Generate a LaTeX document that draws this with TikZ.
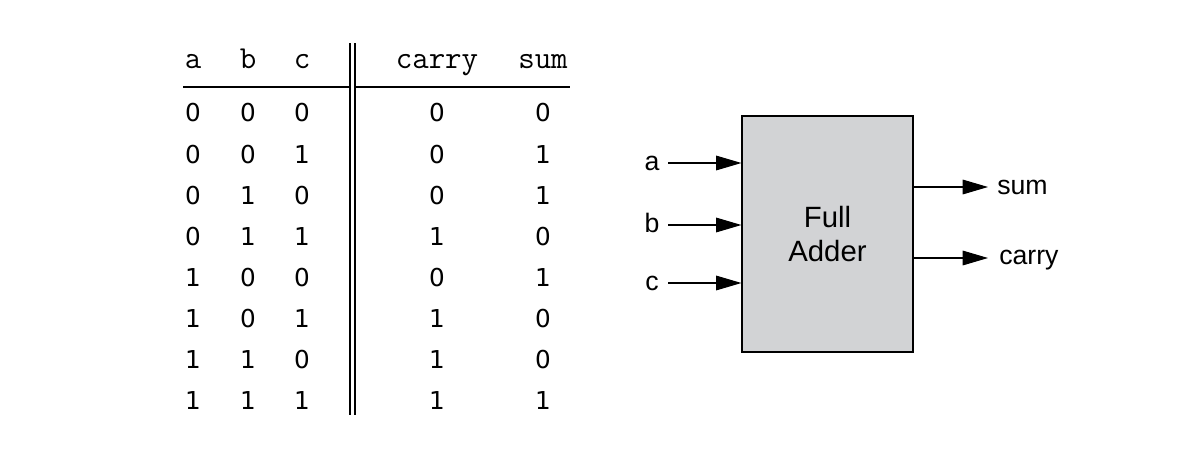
\documentclass[tikz,border=0pt]{standalone}
\usepackage{fontspec}
\setmainfont{Liberation Sans}
\newfontfamily\digfont{DejaVu Sans}
\usetikzlibrary{arrows.meta}
\definecolor{boxgray}{RGB}{210,211,213}
\begin{document}
\begin{tikzpicture}[x=0.75pt,y=-0.75pt,
  hdr/.style={inner sep=0pt,anchor=base,font=\ttfamily\fontsize{24}{24}\selectfont},
  dig/.style={inner sep=0pt,anchor=center,font=\digfont\fontsize{18.5}{18.5}\selectfont},
  rule/.style={line width=1.5pt},
  sig/.style={line width=0.8pt,-{Triangle[length=19pt,width=11pt]}},
  lab/.style={inner sep=0pt,font=\fontsize{20}{20}\selectfont},
  fabox/.style={draw,line width=0.9pt,fill=boxgray,minimum width=171*0.75pt,minimum height=236*0.75pt,inner sep=0pt,align=center,font=\fontsize{22}{25}\selectfont}]
\useasboundingbox (0,0) rectangle (1189,468);
% header
\node[hdr] (ha) at (193,68) {a};
\node[hdr] (hb) at (248,68) {b};
\node[hdr] (hc) at (302,68) {c};
\node[hdr] (hcarry) at (437,68) {carry};
\node[hdr] (hsum) at (543,68) {sum};
% rules
\coordinate (hl1) at (183,87);
\coordinate (hl2) at (350,87);
\coordinate (hr1) at (355,87);
\coordinate (hr2) at (570,87);
\draw[rule] (hl1) -- (hl2);
\draw[rule] (hr1) -- (hr2);
\coordinate (v1t) at (350,43);
\coordinate (v1b) at (350,415);
\coordinate (v2t) at (355,43);
\coordinate (v2b) at (355,415);
\draw[rule] (v1t) -- (v1b);
\draw[rule] (v2t) -- (v2b);
% rows
\foreach \a/\b/\c/\cy/\s [count=\i from 0] in {0/0/0/0/0,0/0/1/0/1,0/1/0/0/1,0/1/1/1/0,1/0/0/0/1,1/0/1/1/0,1/1/0/1/0,1/1/1/1/1}{
  \pgfmathsetmacro{\yy}{113+41.1*\i}
  \node[dig] (ra\i) at (193,\yy) {\a};
  \node[dig] (rb\i) at (248,\yy) {\b};
  \node[dig] (rc\i) at (302,\yy) {\c};
  \node[dig] (rcy\i) at (437,\yy) {\cy};
  \node[dig] (rs\i) at (543,\yy) {\s};
}
% full adder
\node[fabox] (fa) at (827.5,234) {Full\\Adder};
\node[lab,anchor=base] (la) at (652,170) {a};
\node[lab,anchor=base] (lb) at (652,232) {b};
\node[lab,anchor=base] (lc) at (652,290) {c};
\coordinate (ia) at (668,163);
\coordinate (ib) at (668,225);
\coordinate (ic) at (668,283);
\draw[sig] (ia) -- (ia -| fa.west);
\draw[sig] (ib) -- (ib -| fa.west);
\draw[sig] (ic) -- (ic -| fa.west);
\coordinate (os) at (988,187);
\coordinate (oc) at (988,258);
\draw[sig] (os -| fa.east) -- (os);
\draw[sig] (oc -| fa.east) -- (oc);
\node[lab,anchor=base west] (lsum) at (997,194) {sum};
\node[lab,anchor=base west] (lcarry) at (999,264) {carry};
\end{tikzpicture}
\end{document}
